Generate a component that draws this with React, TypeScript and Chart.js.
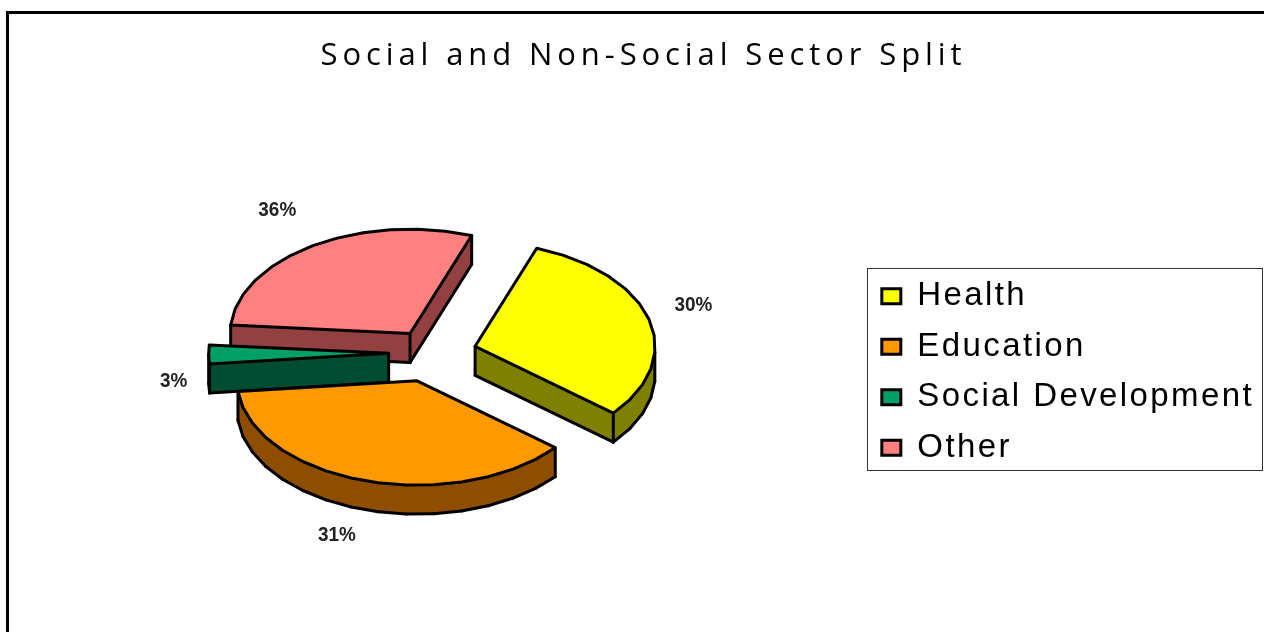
import React, { useEffect, useRef } from "react";
import { Chart, registerables } from "chart.js";

Chart.register(...registerables);

const categories = ["Health", "Education", "Social Development", "Other"];
const shares = [30, 31, 3, 36];
const tops = ["#FFFF00", "#FF9900", "#00A066", "#FF8080"];
const sides = ["#808000", "#8F4D00", "#004D33", "#924040"];
const explode = [45, 50, 43, 40];
const drawOrder = [3, 0, 2, 1];
const labelGap = [46, 94, 35, 66];
const labelDy = [-7, 2, 27, -3];
const titleText = "Social and Non-Social Sector Split";

const TILT = 0.58;        // vertical squash of the pie plane
const PERSPECTIVE = 1.3;  // side of the pie nearest the viewer looks wider
const AXIS = (75 * Math.PI) / 180; // canvas angle of that nearest side
const DEPTH = 29;
const STEP = (9 * Math.PI) / 180;
const NUDGE_X = 0;
const NUDGE_Y = 1;

// angle on the flat pie -> angle seen through the 3D perspective
function warp(a: number) {
  const th = Math.atan2(Math.sin(a - AXIS), Math.cos(a - AXIS));
  return AXIS + 2 * Math.atan(PERSPECTIVE * Math.tan(th / 2));
}

function sliceGeometry(arc: any) {
  const { x, y, startAngle, endAngle, outerRadius } = arc.getProps(
    ["x", "y", "startAngle", "endAngle", "outerRadius"],
    true
  );
  const s = warp(startAngle);
  let e = warp(endAngle);
  while (e <= s) e += Math.PI * 2;
  const mid = (s + e) / 2;
  const d = arc.options.offset || 0;
  const ax = x + NUDGE_X + Math.cos(mid) * d;
  const ay = y + NUDGE_Y + Math.sin(mid) * d * TILT;
  const at = (t: number, r = outerRadius) => ({
    x: ax + Math.cos(t) * r,
    y: ay + Math.sin(t) * r * TILT,
  });
  const rim: { x: number; y: number }[] = [];
  const n = Math.max(2, Math.round((e - s) / STEP));
  for (let i = 0; i <= n; i++) rim.push(at(s + ((e - s) * i) / n));
  return { apex: { x: ax, y: ay }, rim, mid, outerRadius, at };
}

const pie3d = {
  id: "pie3d",
  beforeDatasetsDraw(chart: any) {
    const ctx: CanvasRenderingContext2D = chart.ctx;
    const arcs = chart.getDatasetMeta(0).data;
    ctx.save();
    ctx.lineJoin = "round";
    ctx.lineCap = "round";
    drawOrder.forEach((i) => {
      const g = sliceGeometry(arcs[i]);
      const pts = [g.apex, ...g.rim];
      const m = pts.length;
      const corner = (k: number) => k === 0 || k === 1 || k === m - 1;
      const visible = pts.map((p, k) => pts[(k + 1) % m].x < p.x);
      // side walls, as one path so neighbouring facets leave no seam
      ctx.fillStyle = sides[i];
      ctx.beginPath();
      pts.forEach((p, k) => {
        if (!visible[k]) return;
        const q = pts[(k + 1) % m];
        ctx.moveTo(p.x + 0.5, p.y);
        ctx.lineTo(q.x - 0.5, q.y);
        ctx.lineTo(q.x - 0.5, q.y + DEPTH);
        ctx.lineTo(p.x + 0.5, p.y + DEPTH);
        ctx.closePath();
      });
      ctx.fill();
      ctx.strokeStyle = "#000";
      ctx.lineWidth = 3;
      pts.forEach((p, k) => {
        const q = pts[(k + 1) % m];
        if (visible[k]) {
          ctx.beginPath();
          ctx.moveTo(p.x, p.y + DEPTH);
          ctx.lineTo(q.x, q.y + DEPTH);
          ctx.stroke();
        }
        const prev = visible[(k - 1 + m) % m];
        if (prev !== visible[k] || (corner(k) && (prev || visible[k]))) {
          ctx.beginPath();
          ctx.moveTo(p.x, p.y);
          ctx.lineTo(p.x, p.y + DEPTH);
          ctx.stroke();
        }
      });
      // top face
      ctx.beginPath();
      pts.forEach((p, k) => (k ? ctx.lineTo(p.x, p.y) : ctx.moveTo(p.x, p.y)));
      ctx.closePath();
      ctx.fillStyle = tops[i];
      ctx.fill();
      ctx.stroke();
    });
    // percentage labels, slightly condensed
    ctx.fillStyle = "#222";
    ctx.font = 'bold 21px "Liberation Sans"';
    ctx.textAlign = "center";
    ctx.textBaseline = "middle";
    arcs.forEach((arc: any, i: number) => {
      const g = sliceGeometry(arc);
      const p = g.at(g.mid, g.outerRadius + labelGap[i]);
      ctx.save();
      ctx.translate(p.x, p.y + labelDy[i]);
      ctx.scale(0.9, 1);
      ctx.fillText(shares[i] + "%", 0, 0);
      ctx.restore();
    });
    ctx.restore();
    return false;
  },
};

const frame = {
  id: "frame",
  beforeLayout(chart: any) {
    chart.ctx.letterSpacing = "2.4px";
  },
  afterLayout(chart: any) {
    chart.ctx.letterSpacing = "0px";
    chart.legend.left += 1;
    chart.legend.right += 1;
    chart.legend.top += 57.5;
    chart.legend.bottom += 57.5;
  },
  afterInit(chart: any) {
    const wrap = (box: any, spacing: string, dx: number) => {
      const draw = box.draw;
      box.draw = function (...args: any[]) {
        const ctx = chart.ctx;
        ctx.save();
        ctx.letterSpacing = spacing;
        ctx.translate(dx, 0);
        draw.apply(box, args);
        ctx.restore();
      };
    };
    wrap(chart.titleBlock, "4.9px", 12);
    wrap(chart.legend, "2.4px", 0);
  },
  afterDraw(chart: any) {
    const ctx: CanvasRenderingContext2D = chart.ctx;
    ctx.save();
    ctx.strokeStyle = "#000";
    ctx.lineWidth = 3;
    ctx.beginPath();
    ctx.moveTo(7.5, 640);
    ctx.lineTo(7.5, 12.5);
    ctx.lineTo(1270, 12.5);
    ctx.stroke();
    ctx.strokeStyle = "#333";
    ctx.lineWidth = 1;
    ctx.strokeRect(867.5, 268.5, 395, 202);
    ctx.restore();
  },
};

export default function App() {
  const ref = useRef<HTMLCanvasElement>(null);
  useEffect(() => {
    const chart = new Chart(ref.current!, {
      type: "pie",
      data: {
        labels: categories,
        datasets: [
          {
            data: shares,
            backgroundColor: tops,
            borderColor: "#000",
            borderWidth: 3,
            offset: explode,
          },
        ],
      },
      options: {
        responsive: false,
        animation: false,
        radius: 180,
        rotation: 29.6,
        layout: { padding: { right: 1, bottom: 3 } },
        events: [],
        plugins: {
          tooltip: { enabled: false },
          title: {
            display: true,
            text: titleText,
            color: "#000",
            font: { family: '"Open Sans"', size: 31, weight: "normal" },
            padding: { top: 38, bottom: 0 },
          },
          legend: {
            position: "right",
            labels: {
              color: "#000",
              font: { family: '"Liberation Sans"', size: 33 },
              boxWidth: 19,
              boxHeight: 15,
              padding: 17.5,
            },
          },
        },
      } as any,
      plugins: [frame, pie3d] as any,
    });
    return () => chart.destroy();
  }, []);
  return (
    <canvas
      ref={ref}
      width={1264}
      height={632}
      style={{ position: "fixed", left: 0, top: 0, display: "block", background: "#fff" }}
    />
  );
}
